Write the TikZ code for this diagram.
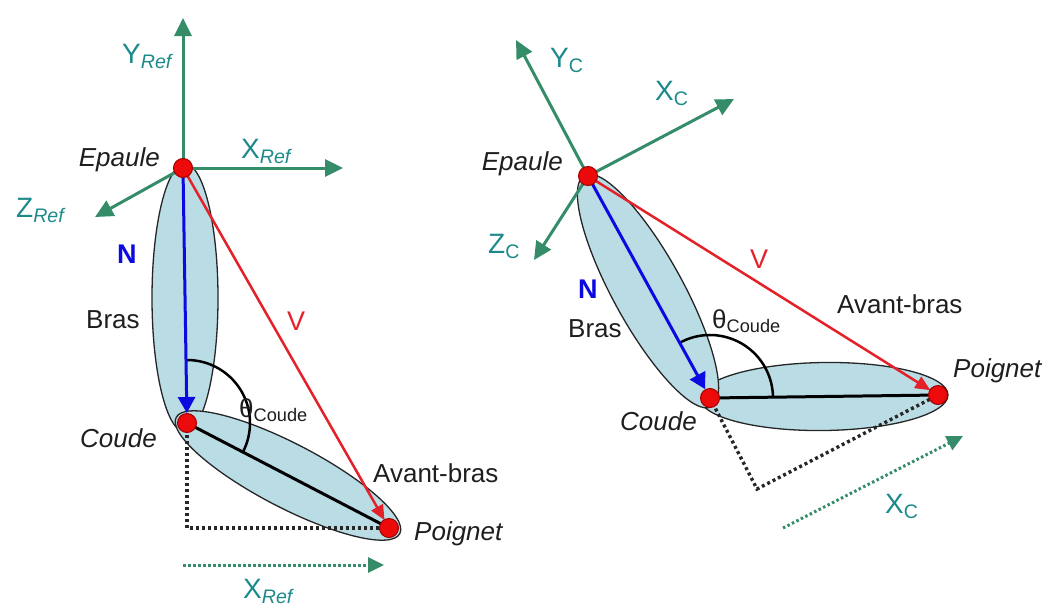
\documentclass[tikz,border=0pt]{standalone}
\usepackage{fontspec}
\setmainfont{Liberation Sans}
\usetikzlibrary{arrows.meta,calc}

\definecolor{limb}{RGB}{186,220,228}
\definecolor{axisgreen}{RGB}{52,140,104}
\definecolor{axislabel}{RGB}{28,138,138}
\definecolor{jointred}{RGB}{236,10,10}
\definecolor{jointedge}{RGB}{160,0,0}
\definecolor{vecblue}{RGB}{10,10,225}
\definecolor{vecred}{RGB}{228,32,40}
\definecolor{ink}{RGB}{30,30,30}

\tikzset{
  limbshape/.style={fill=limb, draw=black!85, line width=1.3pt},
  axisarrow/.style={draw=axisgreen, line width=3pt, -{Triangle[length=18pt,width=17pt]}},
  projarrow/.style={draw=axisgreen, line width=3pt, dash pattern=on 2.5pt off 2.5pt,
    -{Triangle[length=16pt,width=15pt]}},
  projline/.style={draw=black!85, line width=3.4pt, dash pattern=on 3pt off 3pt},
  segment/.style={draw=black, line width=3pt},
  anglearc/.style={draw=black, line width=2.5pt},
  nvec/.style={draw=vecblue, line width=3pt, -{Triangle[length=16pt,width=17pt]}, shorten >=10pt},
  vvec/.style={draw=vecred, line width=2.5pt, -{Triangle[length=15pt,width=13pt]}, shorten >=9pt},
  joint/.style={circle, fill=jointred, draw=jointedge, line width=1pt, minimum size=19pt, inner sep=0pt},
  axistext/.style={text=axislabel, font=\fontsize{28}{30}\selectfont, inner sep=0pt},
  lbl/.style={text=ink, font=\fontsize{26}{30}\selectfont, inner sep=0pt},
  itlbl/.style={lbl, font=\fontsize{26}{30}\selectfont\itshape},
}

\begin{document}
\begin{tikzpicture}[x=1pt, y=-1pt]
\useasboundingbox (0,0) rectangle (1048,608);

% ---------------- reference frame (left) ----------------
\coordinate (epL) at (183,168);
\coordinate (coL) at (187,423);
\coordinate (poL) at (389,528);
\coordinate (yL) at (183,18);
\coordinate (xL) at (343,168);
\coordinate (zL) at (95,217);
\coordinate (cornerL) at (coL |- poL);
\coordinate (pxsL) at (183,565);
\coordinate (pxeL) at (384,565);

% limbs
\draw[limbshape, rotate around={-90:(185,298)}] (185,298) ellipse [x radius=134pt, y radius=33pt];
\draw[limbshape, rotate around={-27.47:(288,475.5)}] (288,475.5) ellipse [x radius=126pt, y radius=32pt];

% projections
\draw[projline] (coL) -- (cornerL) -- (poL);
\draw[projarrow] (pxsL) -- (pxeL);

% axes
\draw[axisarrow] (epL) -- (yL);
\draw[axisarrow] (epL) -- (xL);
\draw[axisarrow] (epL) -- (zL);

% forearm segment and elbow angle
\draw[segment] (coL) -- (poL);
\draw[anglearc] (coL) ++(-90.9:63) arc[start angle=-90.9, end angle=27.47, radius=63];

% vectors
\draw[nvec] (epL) -- (coL);
\draw[vvec] (epL) -- (poL);

% joints
\node[joint] (jEpL) at (epL) {};
\node[joint] (jCoL) at (coL) {};
\node[joint] (jPoL) at (poL) {};

% labels
\node[axistext, anchor=base west] (tYL) at (122,63) {Y\textsubscript{\itshape Ref}};
\node[axistext, anchor=base west] (tXL) at (241,158) {X\textsubscript{\itshape Ref}};
\node[axistext, anchor=base west] (tZL) at (16,217) {Z\textsubscript{\itshape Ref}};
\node[axistext, anchor=base west] (tXbL) at (243,598) {X\textsubscript{\itshape Ref}};
\node[itlbl, anchor=base east] (tEpL) at (160,166) {Epaule};
\node[lbl, anchor=base west, text=vecblue, font=\fontsize{27}{30}\selectfont\bfseries] (tNL) at (117,263) {N};
\node[lbl, anchor=base west] (tBrL) at (86,328) {Bras};
\node[lbl, anchor=base west, text=vecred, font=\fontsize{27}{30}\selectfont] (tVL) at (287,330) {V};
\node[lbl, anchor=base west] (tThL) at (239,417) {θ\textsubscript{Coude}};
\node[itlbl, anchor=base east] (tCoL) at (157,447) {Coude};
\node[lbl, anchor=base west] (tAbL) at (373,482) {Avant-bras};
\node[itlbl, anchor=base west] (tPoL) at (414,540) {Poignet};

% ---------------- arm frame (right) ----------------
\coordinate (epR) at (588,176);
\coordinate (coR) at (710,398);
\coordinate (poR) at (938,395);
\coordinate (yR) at (516,40);
\coordinate (xR) at (734,99);
\coordinate (zR) at (534,260);
\coordinate (cornerR) at (757,489);
\coordinate (pxsR) at (783,528);
\coordinate (pxeR) at (963,436);

% limbs
\draw[limbshape, rotate around={0.75:(824,396.5)}] (824,396.5) ellipse [x radius=124pt, y radius=34pt];
\draw[limbshape, rotate around={-61.2:(648,291)}] (648,291) ellipse [x radius=132pt, y radius=35pt];

% projections
\draw[projline] (coR) -- (cornerR) -- (poR);
\draw[projarrow] (pxsR) -- (pxeR);

% axes
\draw[axisarrow] (epR) -- (yR);
\draw[axisarrow] (epR) -- (xR);
\draw[axisarrow] (epR) -- (zR);

% forearm segment and elbow angle
\draw[segment] (coR) -- (poR);
\draw[anglearc] (coR) ++(-118.9:63) arc[start angle=-118.9, end angle=-0.75, radius=63];

% vectors
\draw[nvec] (epR) -- (coR);
\draw[vvec] (epR) -- (poR);

% joints
\node[joint] (jEpR) at (epR) {};
\node[joint] (jCoR) at (coR) {};
\node[joint] (jPoR) at (poR) {};

% labels
\node[axistext, anchor=base west] (tYR) at (550,67) {Y\textsubscript{C}};
\node[axistext, anchor=base west] (tXR) at (655,100) {X\textsubscript{C}};
\node[axistext, anchor=base west] (tZR) at (488,253) {Z\textsubscript{C}};
\node[axistext, anchor=base west] (tXbR) at (885,513) {X\textsubscript{C}};
\node[itlbl, anchor=base east] (tEpR) at (563,170) {Epaule};
\node[lbl, anchor=base west, text=vecblue, font=\fontsize{27}{30}\selectfont\bfseries] (tNR) at (578,298) {N};
\node[lbl, anchor=base west] (tBrR) at (568,337) {Bras};
\node[lbl, anchor=base west, text=vecred, font=\fontsize{27}{30}\selectfont] (tVR) at (750,268) {V};
\node[lbl, anchor=base west] (tThR) at (712,328) {θ\textsubscript{Coude}};
\node[lbl, anchor=base west] (tAbR) at (837,313) {Avant-bras};
\node[itlbl, anchor=base west] (tPoR) at (953,377) {Poignet};
\node[itlbl, anchor=base east] (tCoR) at (697,430) {Coude};
\end{tikzpicture}
\end{document}
